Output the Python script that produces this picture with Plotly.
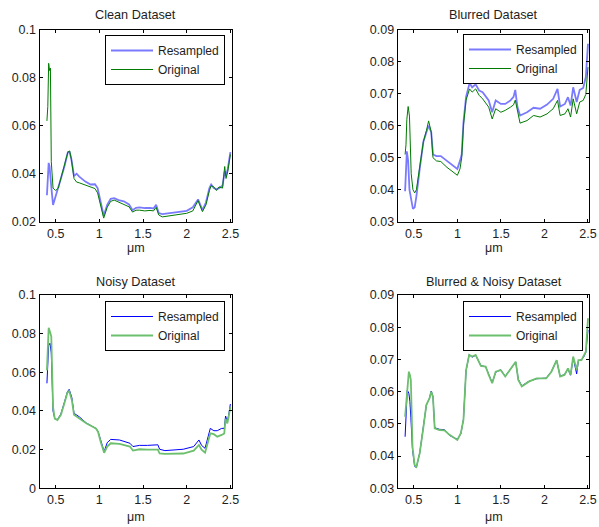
import plotly.graph_objects as go

# ---------------- data ----------------
# Clean dataset
wl_clean = [0.40, 0.41, 0.42, 0.43, 0.44, 0.45, 0.47, 0.50, 0.53, 0.56, 0.60, 0.64, 0.66, 0.68,
            0.71, 0.74, 0.77, 0.84, 0.90, 0.95, 0.98, 1.01, 1.05, 1.09, 1.13, 1.17, 1.22, 1.28,
            1.34, 1.38, 1.42, 1.46, 1.52, 1.58, 1.62, 1.65, 1.68, 1.72, 1.80, 1.90, 2.00, 2.07,
            2.13, 2.18, 2.22, 2.26, 2.28, 2.31, 2.34, 2.37, 2.41, 2.435, 2.45, 2.47, 2.50]
clean_original = [0.062, 0.068, 0.086, 0.083, 0.084, 0.045, 0.034, 0.033, 0.034, 0.038, 0.043, 0.049,
                  0.0495, 0.046, 0.038, 0.0365, 0.0362, 0.0352, 0.0343, 0.0338, 0.032, 0.028, 0.0215,
                  0.026, 0.0285, 0.029, 0.0282, 0.0275, 0.0262, 0.024, 0.0248, 0.0248, 0.0245, 0.0247,
                  0.0245, 0.026, 0.0228, 0.022, 0.0225, 0.023, 0.0235, 0.0245, 0.0288, 0.0242, 0.027,
                  0.033, 0.035, 0.0345, 0.033, 0.0345, 0.034, 0.043, 0.038, 0.041, 0.048]
clean_resampled = [0.031, 0.041, 0.0445, 0.043, 0.040, 0.0345, 0.027, 0.0305, 0.0335, 0.038, 0.043,
                   0.049, 0.049, 0.046, 0.039, 0.040, 0.0388, 0.0367, 0.0355, 0.0356, 0.034, 0.029,
                   0.0225, 0.027, 0.0295, 0.0298, 0.029, 0.0285, 0.0272, 0.0248, 0.0258, 0.026, 0.0257,
                   0.0258, 0.0255, 0.027, 0.0236, 0.0232, 0.0235, 0.024, 0.0245, 0.026, 0.0293, 0.0248,
                   0.028, 0.034, 0.0355, 0.034, 0.0335, 0.034, 0.035, 0.041, 0.039, 0.042, 0.049]

# Blurred dataset
wl_blurred = [0.40, 0.41, 0.42, 0.435, 0.45, 0.47, 0.49, 0.51, 0.53, 0.57, 0.61, 0.645, 0.67, 0.70,
              0.72, 0.76, 0.81, 0.88, 0.95, 1.00, 1.03, 1.05, 1.07, 1.10, 1.14, 1.17, 1.21, 1.25,
              1.29, 1.33, 1.36, 1.40, 1.44, 1.50, 1.55, 1.61, 1.645, 1.665, 1.69, 1.72, 1.80, 1.875,
              1.95, 2.03, 2.10, 2.15, 2.18, 2.235, 2.27, 2.30, 2.33, 2.37, 2.405, 2.445, 2.475, 2.50]
blurred_original = [0.051, 0.054, 0.062, 0.066, 0.063, 0.045, 0.040, 0.039, 0.040, 0.048, 0.055, 0.0585,
                    0.0615, 0.058, 0.050, 0.049, 0.0488, 0.047, 0.0455, 0.0445, 0.0465, 0.050, 0.060,
                    0.068, 0.0715, 0.0705, 0.0715, 0.0695, 0.0684, 0.067, 0.0658, 0.0621, 0.0653,
                    0.0642, 0.0648, 0.0658, 0.0665, 0.068, 0.0642, 0.0608, 0.0616, 0.0632, 0.0627,
                    0.0637, 0.0653, 0.0679, 0.0632, 0.0637, 0.0653, 0.0627, 0.0684, 0.0637, 0.0674,
                    0.0679, 0.0698, 0.0783]
blurred_resampled = [0.0395, 0.046, 0.052, 0.049, 0.040, 0.037, 0.034, 0.0345, 0.038, 0.047, 0.055,
                     0.058, 0.060, 0.058, 0.051, 0.0505, 0.0505, 0.049, 0.0475, 0.0465, 0.049, 0.051,
                     0.061, 0.069, 0.0733, 0.072, 0.0729, 0.071, 0.0705, 0.069, 0.0679, 0.0642, 0.0679,
                     0.0668, 0.0668, 0.0679, 0.069, 0.0712, 0.0658, 0.0632, 0.0642, 0.0656, 0.0653,
                     0.0666, 0.0684, 0.0715, 0.066, 0.0668, 0.0689, 0.0663, 0.072, 0.0674, 0.0712,
                     0.0718, 0.0752, 0.0856]

# Noisy dataset
wl_noisy = [0.40, 0.41, 0.42, 0.435, 0.45, 0.47, 0.49, 0.52, 0.56, 0.60, 0.635, 0.655, 0.685, 0.71,
            0.77, 0.85, 0.96, 0.985, 1.015, 1.055, 1.09, 1.13, 1.23, 1.35, 1.385, 1.46, 1.55, 1.65,
            1.67, 1.69, 1.75, 1.96, 2.08, 2.14, 2.17, 2.21, 2.27, 2.31, 2.35, 2.40, 2.43, 2.445,
            2.465, 2.48, 2.50]
noisy_original = [0.061, 0.070, 0.083, 0.081, 0.0785, 0.042, 0.036, 0.0353, 0.038, 0.044, 0.0495,
                  0.0503, 0.0457, 0.038, 0.036, 0.0336, 0.031, 0.0293, 0.0241, 0.0184, 0.0216, 0.0233,
                  0.023, 0.0216, 0.0195, 0.0202, 0.020, 0.0198, 0.020, 0.018, 0.0178, 0.018, 0.0195,
                  0.0224, 0.020, 0.0184, 0.0284, 0.028, 0.0267, 0.0276, 0.0284, 0.036, 0.0336, 0.037,
                  0.042]
noisy_resampled = [0.0543, 0.066, 0.074, 0.075, 0.070, 0.040, 0.036, 0.0355, 0.0385, 0.0445, 0.050,
                   0.0512, 0.047, 0.0388, 0.037, 0.0338, 0.031, 0.0295, 0.0245, 0.019, 0.0236, 0.0253,
                   0.025, 0.0233, 0.0216, 0.0222, 0.0222, 0.0222, 0.0225, 0.0202, 0.0195, 0.0202,
                   0.0216, 0.025, 0.0222, 0.0207, 0.031, 0.0298, 0.0298, 0.031, 0.031, 0.0374, 0.0345,
                   0.0378, 0.0436]

# Blurred & noisy dataset
wl_blurred_noisy = [0.40, 0.425, 0.443, 0.455, 0.466, 0.485, 0.51, 0.53, 0.568, 0.606, 0.644, 0.68,
                    0.70, 0.72, 0.74, 0.795, 0.852, 0.91, 1.00, 1.04, 1.07, 1.10, 1.136, 1.17, 1.21,
                    1.27, 1.325, 1.36, 1.40, 1.44, 1.497, 1.55, 1.61, 1.67, 1.70, 1.74, 1.82, 1.875,
                    1.91, 2.02, 2.08, 2.14, 2.18, 2.23, 2.27, 2.30, 2.33, 2.37, 2.39, 2.425, 2.45,
                    2.475, 2.50]
blurred_noisy_original = [0.0522, 0.062, 0.0662, 0.0652, 0.0636, 0.0429, 0.0372, 0.0367, 0.0409,
                          0.0481, 0.0559, 0.0579, 0.060, 0.0584, 0.0486, 0.0481, 0.048, 0.0466, 0.045,
                          0.0471, 0.0512, 0.0667, 0.0714, 0.0709, 0.0714, 0.068, 0.0678, 0.0652,
                          0.0626, 0.0662, 0.0667, 0.0647, 0.0672, 0.0693, 0.0636, 0.0616, 0.0631,
                          0.0636, 0.0641, 0.0641, 0.0662, 0.0698, 0.0647, 0.0652, 0.0672, 0.0652,
                          0.0709, 0.0667, 0.0698, 0.0698, 0.0709, 0.0724, 0.0828]
blurred_noisy_resampled = [0.046, 0.0605, 0.0595, 0.057, 0.052, 0.042, 0.0368, 0.0365, 0.041,
                           0.0482, 0.0558, 0.058, 0.0602, 0.0585, 0.0488, 0.0483, 0.0482, 0.0464,
                           0.0452, 0.0469, 0.0514, 0.0665, 0.0715, 0.0707, 0.0713, 0.0681, 0.0677,
                           0.0654, 0.0628, 0.066, 0.0668, 0.0648, 0.067, 0.0692, 0.0638, 0.0618,
                           0.0632, 0.0637, 0.064, 0.0642, 0.0663, 0.0697, 0.0648, 0.0653, 0.067,
                           0.0651, 0.0705, 0.0655, 0.0696, 0.0699, 0.0707, 0.0722, 0.0791]

panel_titles = ["Clean Dataset", "Blurred Dataset", "Noisy Dataset", "Blurred & Noisy Dataset"]
series_names = ["Resampled", "Original"]
x_label = "\u03bcm"

x_tickvals = [0.5, 1, 1.5, 2, 2.5]
x_ticktext = ["0.5", "1", "1.5", "2", "2.5"]
y_tickvals_clean = [0.02, 0.04, 0.06, 0.08, 0.1]
y_ticktext_clean = ["0.02", "0.04", "0.06", "0.08", "0.1"]
y_tickvals_noisy = [0, 0.02, 0.04, 0.06, 0.08, 0.1]
y_ticktext_noisy = ["0", "0.02", "0.04", "0.06", "0.08", "0.1"]
y_tickvals_blur = [0.03, 0.04, 0.05, 0.06, 0.07, 0.08, 0.09]
y_ticktext_blur = ["0.03", "0.04", "0.05", "0.06", "0.07", "0.08", "0.09"]

# ---------------- layout geometry ----------------
W, H = 599, 527
FONT = "Liberation Sans, Arial, Helvetica, sans-serif"
TXT = "#1e1e1e"


def px_x(p):
    return p / W


def px_y(p):
    return 1 - p / H


col_dom = [[px_x(39.5), px_x(231.7)], [px_x(397.7), px_x(589.3)]]
row_dom = [[px_y(221.7), px_y(29.7)], [px_y(488.3), px_y(295)]]
xlabel_y = [248.3, 516.7]
title_y = [15, 281.7]

panels = [
    dict(wl=wl_clean, res=clean_resampled, org=clean_original, yr=[0.02, 0.1],
         tv=y_tickvals_clean, tt=y_ticktext_clean, col=0, row=0, top=True),
    dict(wl=wl_blurred, res=blurred_resampled, org=blurred_original, yr=[0.03, 0.09],
         tv=y_tickvals_blur, tt=y_ticktext_blur, col=1, row=0, top=True),
    dict(wl=wl_noisy, res=noisy_resampled, org=noisy_original, yr=[0, 0.1],
         tv=y_tickvals_noisy, tt=y_ticktext_noisy, col=0, row=1, top=False),
    dict(wl=wl_blurred_noisy, res=blurred_noisy_resampled, org=blurred_noisy_original,
         yr=[0.03, 0.09], tv=y_tickvals_blur, tt=y_ticktext_blur, col=1, row=1, top=False),
]
legend_pos = [(105, 35), (463, 34), (105, 301), (463, 301)]

fig = go.Figure()
layout = dict(
    template="none",
    width=W, height=H,
    margin=dict(l=0, r=0, t=0, b=0, autoexpand=False),
    paper_bgcolor="white", plot_bgcolor="white",
    font=dict(family=FONT, size=12, color=TXT),
    annotations=[],
    showlegend=True,
)

for i, p in enumerate(panels):
    n = "" if i == 0 else str(i + 1)
    leg = "legend" + n
    if p["top"]:
        res_style = dict(color="#7a7aff", width=1.8)
        org_style = dict(color="#007a00", width=1)
    else:
        res_style = dict(color="#0000ff", width=1)
        org_style = dict(color="#6cbf6c", width=1.8)
    fig.add_trace(go.Scatter(x=p["wl"], y=p["res"], mode="lines", name=series_names[0],
                             line=res_style, xaxis="x" + n, yaxis="y" + n, legend=leg))
    fig.add_trace(go.Scatter(x=p["wl"], y=p["org"], mode="lines", name=series_names[1],
                             line=org_style, xaxis="x" + n, yaxis="y" + n, legend=leg))

    axis_common = dict(showgrid=False, zeroline=False, showline=True, linecolor="#000000",
                       linewidth=1, mirror="ticks", ticks="inside", ticklen=3,
                       tickcolor="#000000", automargin=False,
                       tickfont=dict(family=FONT, size=12.5, color=TXT))
    layout["xaxis" + n] = dict(axis_common, domain=col_dom[p["col"]], range=[0.315, 2.515],
                               tickvals=x_tickvals, ticktext=x_ticktext, anchor="y" + n)
    layout["yaxis" + n] = dict(axis_common, domain=row_dom[p["row"]], range=p["yr"],
                               tickvals=p["tv"], ticktext=p["tt"], anchor="x" + n)
    lx, ly = legend_pos[i]
    layout[leg] = dict(x=px_x(lx), y=px_y(ly), xanchor="left", yanchor="top",
                       bgcolor="white", bordercolor="#000000", borderwidth=1,
                       itemwidth=42, entrywidth=124, entrywidthmode="pixels",
                       font=dict(family=FONT, size=12, color=TXT), tracegroupgap=0)
    d = col_dom[p["col"]]
    cx = (d[0] + d[1]) / 2
    layout["annotations"].append(dict(
        text=panel_titles[i], xref="paper", yref="paper", x=cx, y=px_y(title_y[p["row"]]),
        xanchor="center", yanchor="middle", showarrow=False,
        font=dict(family=FONT, size=12.7, color=TXT)))
    layout["annotations"].append(dict(
        text=x_label, xref="paper", yref="paper", x=cx, y=px_y(xlabel_y[p["row"]]),
        xanchor="center", yanchor="middle", showarrow=False,
        font=dict(family=FONT, size=12.5, color=TXT)))

fig.update_layout(**layout)
fig.write_html("out.html")
